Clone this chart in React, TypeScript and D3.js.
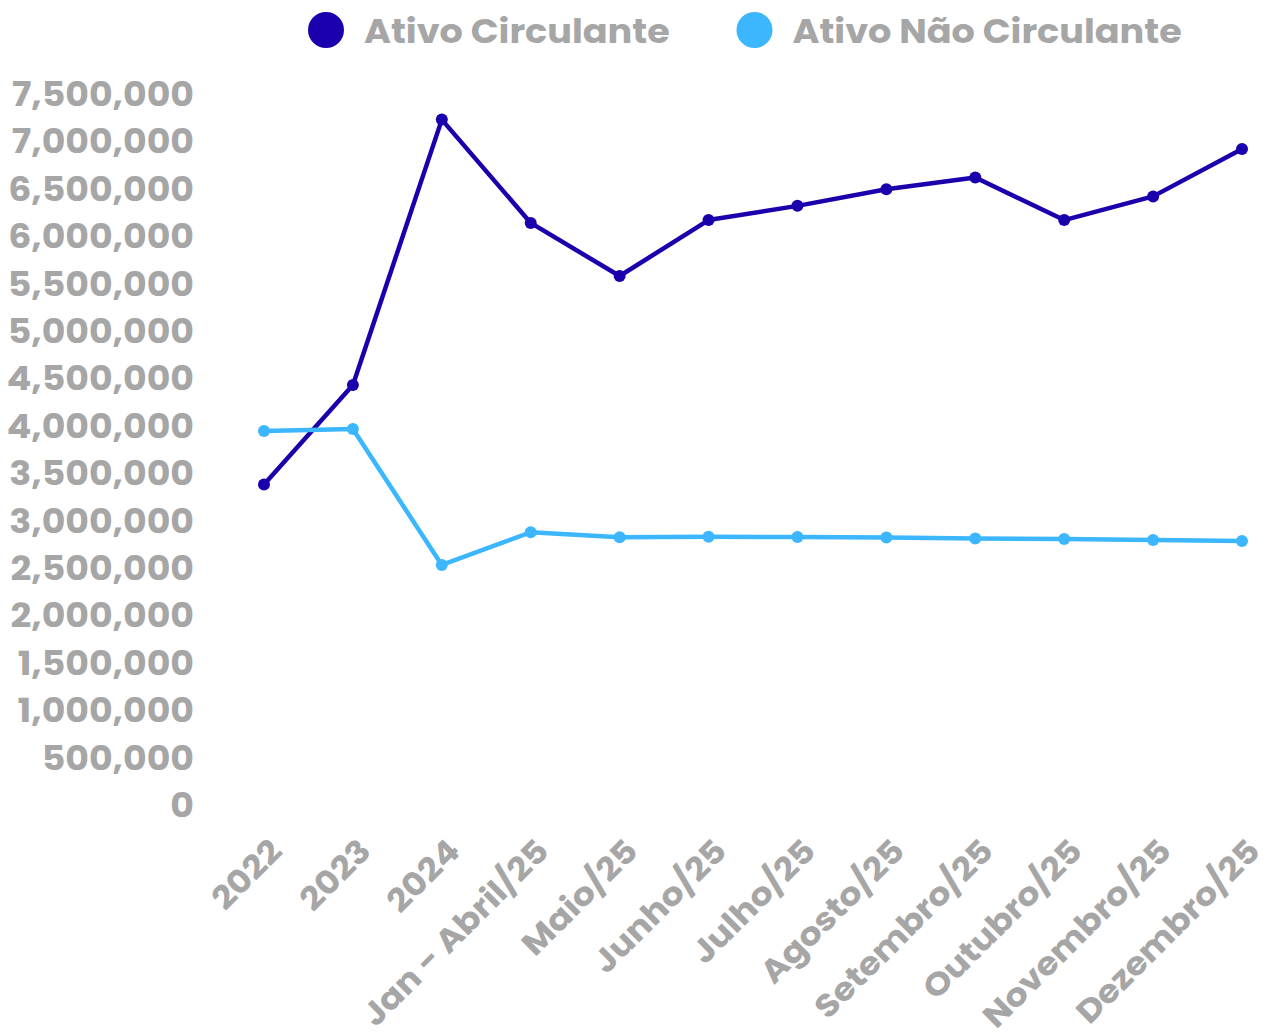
import React from "react";
import * as d3 from "d3";

const categories = [
  "2022",
  "2023",
  "2024",
  "Jan - Abril/25",
  "Maio/25",
  "Junho/25",
  "Julho/25",
  "Agosto/25",
  "Setembro/25",
  "Outubro/25",
  "Novembro/25",
  "Dezembro/25",
];
const ativoCirculante = [
  3380000, 4430000, 7230000, 6140000, 5580000, 6170000, 6320000, 6495000,
  6620000, 6170000, 6420000, 6920000,
];
const ativoNaoCirculante = [
  3945000, 3966000, 2532000, 2877000, 2824000, 2830000, 2826000, 2822000,
  2812000, 2806000, 2795000, 2785000,
];
const yTicks = [
  0, 500000, 1000000, 1500000, 2000000, 2500000, 3000000, 3500000, 4000000,
  4500000, 5000000, 5500000, 6000000, 6500000, 7000000, 7500000,
];
const seriesNames = ["Ativo Circulante", "Ativo Não Circulante"];
const seriesColors = ["#1a00ad", "#3bb6ff"];

const W = 1269;
const H = 1034;
const FONT = "Poppins, Inter, 'Open Sans', sans-serif";
const GRAY = "#a6a6a6";
const SX = 1.1;

export default function App() {
  const x = d3.scalePoint<string>().domain(categories).range([264, 1242]);
  const y = d3.scaleLinear().domain([0, 7500000]).range([805, 94]);
  const fmt = d3.format(",");
  const line = d3
    .line<number>()
    .x((_, i) => x(categories[i]) as number)
    .y((d) => y(d));
  const series = [ativoCirculante, ativoNaoCirculante];
  const legendX = [326, 754.5];

  return (
    <svg
      width={W}
      height={H}
      style={{ position: "absolute", left: 0, top: 0, background: "#fff" }}
      fontFamily={FONT}
    >
      {/* legend */}
      <g>
        {seriesNames.map((name, i) => {
          const cx = legendX[i];
          return (
            <g key={name}>
              <circle cx={cx} cy={30} r={18} fill={seriesColors[i]} />
              <g transform={`translate(${cx + 38},42.5) scale(1.11,1)`}>
                <text x={0} y={0} fontSize={33} fontWeight={700} fill={GRAY}>
                  {name}
                </text>
              </g>
            </g>
          );
        })}
      </g>
      {/* y axis labels */}
      <g>
        {yTicks.map((t) => (
          <g key={t} transform={`translate(194,${y(t) + 12}) scale(${SX},1)`}>
            <text
              x={0}
              y={0}
              textAnchor="end"
              fontSize={33}
              fontWeight={700}
              fill={GRAY}
            >
              {fmt(t)}
            </text>
          </g>
        ))}
      </g>
      {/* x axis labels */}
      <g>
        {categories.map((c) => {
          const px = (x(c) as number) + 20;
          const py = 853;
          return (
            <g
              key={c}
              transform={`translate(${px},${py}) rotate(-45) scale(${SX},1)`}
            >
              <text
                x={0}
                y={0}
                textAnchor="end"
                fontSize={32}
                fontWeight={700}
                fill={GRAY}
              >
                {c}
              </text>
            </g>
          );
        })}
      </g>
      {/* lines */}
      {series.map((s, si) => (
        <g key={si}>
          <path
            d={line(s) || ""}
            fill="none"
            stroke={seriesColors[si]}
            strokeWidth={4.5}
            strokeLinejoin="round"
          />
          {s.map((v, i) => (
            <circle
              key={i}
              cx={x(categories[i]) as number}
              cy={y(v)}
              r={6}
              fill={seriesColors[si]}
            />
          ))}
        </g>
      ))}
    </svg>
  );
}
